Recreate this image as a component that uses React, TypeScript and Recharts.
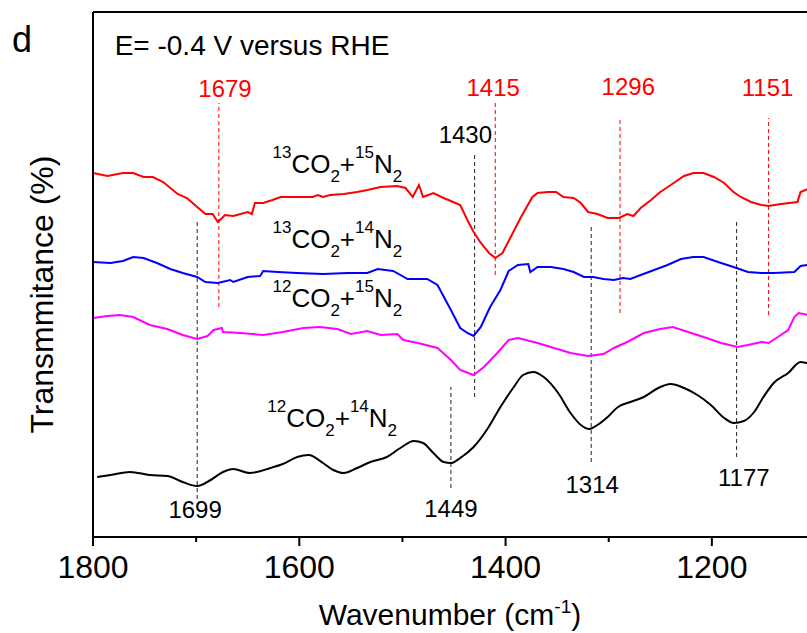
import React from 'react';
import { LineChart, Line, XAxis, YAxis, ReferenceLine, ReferenceDot } from 'recharts';

// FTIR spectra, E = -0.4 V vs RHE. x: wavenumber (cm-1), y: offset transmittance (a.u.)
const FONT = '"Liberation Sans", Arial, Helvetica, sans-serif';

const xTicks = [1800, 1700, 1600, 1500, 1400, 1300, 1200, 1100];

const red13C15N: [number, number][] = [
  [1800, 364], [1786, 361], [1771, 364], [1761, 364], [1751, 360], [1742, 360], [1732, 355], [1718, 343],
  [1709, 339], [1699, 330], [1691, 323], [1684, 323], [1679, 315], [1672, 322], [1664, 321], [1657, 323],
  [1650, 325], [1646, 323], [1643, 334], [1635, 334], [1626, 337], [1618, 340], [1602, 340], [1587, 340],
  [1582, 342], [1577, 340], [1570, 342], [1557, 343], [1544, 345], [1534, 347], [1521, 350], [1505, 351],
  [1497, 349], [1490, 340], [1484, 352], [1480, 340], [1470, 344], [1460, 339], [1453, 336], [1444, 332],
  [1437, 317], [1431, 305], [1424, 294], [1416, 284], [1410, 279], [1403, 284], [1395, 300], [1385, 320],
  [1374, 340], [1369, 344], [1359, 345], [1351, 345], [1344, 340], [1334, 339], [1327, 334], [1320, 325],
  [1311, 323], [1301, 319], [1290, 319], [1282, 323], [1276, 321], [1269, 329], [1259, 337], [1250, 345],
  [1237, 354], [1227, 361], [1218, 364], [1208, 364], [1198, 360], [1188, 354], [1179, 345], [1172, 340],
  [1162, 335], [1152, 332], [1145, 331], [1133, 333], [1117, 335], [1114, 345], [1107, 348], [1100, 349],
];

const blue13C14N: [number, number][] = [
  [1800, 275], [1783, 274], [1771, 276], [1761, 280], [1751, 279], [1738, 274], [1725, 268], [1713, 264],
  [1699, 260], [1691, 255], [1679, 254], [1667, 257], [1664, 255], [1650, 260], [1638, 261], [1635, 266],
  [1621, 265], [1602, 264], [1577, 263], [1553, 264], [1534, 264], [1524, 268], [1509, 266], [1495, 258],
  [1476, 258], [1466, 252], [1453, 227], [1444, 209], [1437, 204], [1431, 201], [1424, 210], [1415, 230],
  [1405, 247], [1397, 266], [1388, 272], [1378, 273], [1376, 265], [1369, 270], [1356, 270], [1344, 268],
  [1334, 265], [1324, 260], [1315, 260], [1305, 258], [1295, 257], [1286, 259], [1279, 258], [1269, 262],
  [1256, 267], [1243, 272], [1230, 278], [1218, 280], [1208, 280], [1194, 275], [1179, 270], [1165, 265],
  [1152, 264], [1140, 264], [1120, 265], [1114, 271], [1107, 272], [1100, 272],
];

const magenta12C15N: [number, number][] = [
  [1800, 219], [1786, 221], [1774, 222], [1761, 220], [1745, 212], [1728, 208], [1713, 202], [1699, 198],
  [1689, 201], [1683, 207], [1675, 209], [1674, 205], [1657, 204], [1635, 202], [1616, 205], [1596, 209],
  [1580, 210], [1563, 208], [1550, 203], [1534, 206], [1521, 202], [1505, 203], [1499, 197], [1485, 194],
  [1466, 189], [1453, 177], [1444, 167], [1431, 162], [1421, 170], [1408, 184], [1397, 197], [1388, 199],
  [1369, 194], [1353, 189], [1337, 184], [1320, 181], [1305, 183], [1295, 189], [1282, 195], [1266, 204],
  [1250, 208], [1238, 210], [1223, 205], [1208, 200], [1191, 194], [1175, 190], [1165, 192], [1152, 195],
  [1145, 194], [1136, 200], [1126, 207], [1120, 220], [1116, 224], [1107, 222], [1100, 221],
];

const black12C14N: [number, number][] = [
  [1796, 60], [1783, 62], [1764, 65], [1745, 62], [1728, 61], [1713, 55], [1699, 51], [1686, 57],
  [1674, 65], [1664, 68], [1648, 64], [1628, 69], [1616, 73], [1602, 80], [1591, 82], [1577, 74],
  [1567, 67], [1557, 64], [1544, 69], [1531, 75], [1515, 80], [1502, 89], [1489, 96], [1480, 94],
  [1470, 84], [1460, 75], [1453, 74], [1444, 79], [1431, 90], [1417, 109], [1405, 130], [1392, 150],
  [1383, 162], [1373, 165], [1363, 160], [1349, 144], [1337, 124], [1327, 112], [1319, 108], [1311, 112],
  [1301, 120], [1291, 130], [1279, 135], [1266, 140], [1252, 149], [1240, 153], [1227, 149], [1214, 142],
  [1201, 132], [1188, 119], [1179, 114], [1169, 116], [1159, 125], [1150, 140], [1140, 154], [1126, 164],
  [1114, 175], [1107, 174], [1100, 177],
];

// dashed peak markers: [wavenumber, y from, y to]
const blackMarks: [number, number, number][] = [
  [1699, 38, 316], [1430, 140, 385], [1453, 49, 150], [1317, 75, 310], [1176, 80, 317],
];
const redMarks: [number, number, number][] = [
  [1678, 230, 434], [1410, 262, 435], [1289, 224, 420], [1145, 222, 419],
];

// peak labels: [text, wavenumber, y]
const blackPeakLabels: [string, number, number][] = [
  ['1430', 1439, 394], ['1699', 1701, 19], ['1449', 1453, 20], ['1314', 1316, 44], ['1177', 1169, 51],
];
const redPeakLabels: [string, number, number][] = [
  ['1679', 1672, 440], ['1415', 1412, 441], ['1296', 1281, 442], ['1151', 1146, 441],
];

// series labels: [C isotope, N isotope, wavenumber, y]
const seriesLabels: [string, string, number, number][] = [
  ['13', '15', 1626, 364],
  ['13', '14', 1626, 289],
  ['12', '15', 1626, 230],
  ['12', '14', 1631, 110],
];

const toPoints = (rows: [number, number][]) => rows.map(([w, t]) => ({ w, t }));

const XTick = (props: any) => {
  const { x, y, payload } = props;
  const major = payload.value % 200 === 0;
  return (
    <g>
      <line x1={x} x2={x} y1={y} y2={y + (major ? 9 : 5)} stroke="#000" strokeWidth={2} />
      {major && (
        <text x={x} y={y + 41} textAnchor="middle" fontSize={32} fontFamily={FONT} fill="#000">
          {payload.value}
        </text>
      )}
    </g>
  );
};

const XTitle = (props: any) => {
  const vb = props.viewBox || { x: 93, y: 537, width: 722, height: 60 };
  const cx = vb.x + vb.width / 2 - 4;
  return (
    <text x={cx} y={vb.y + 88} textAnchor="middle" fontSize={30} fontFamily={FONT} fill="#000">
      Wavenumber (cm
      <tspan fontSize={19} dy={-12}>-1</tspan>
      <tspan dy={12}>)</tspan>
    </text>
  );
};

const YTitle = (props: any) => {
  const vb = props.viewBox || { x: 0, y: 12, width: 93, height: 525 };
  const x = 53;
  const y = vb.y + vb.height / 2 + 20;
  return (
    <text x={x} y={y} transform={`rotate(-90, ${x}, ${y})`} textAnchor="middle" fontSize={32} fontFamily={FONT} fill="#000">
      Transmmitance (%)
    </text>
  );
};

const textShape = (text: string, color: string, size: number, anchor: string = 'middle') => (p: any) => (
  <text x={p.cx} y={p.cy} textAnchor={anchor} fontSize={size} fontFamily={FONT} fill={color}>
    {text}
  </text>
);

const isotopeShape = (c: string, n: string) => (p: any) => (
  <text x={p.cx} y={p.cy} fontSize={26} fontFamily={FONT} fill="#000">
    <tspan fontSize={17} dy={-15}>{c}</tspan>
    <tspan dy={15}>CO</tspan>
    <tspan fontSize={17} dy={9}>2</tspan>
    <tspan dy={-9}>+</tspan>
    <tspan fontSize={17} dy={-15}>{n}</tspan>
    <tspan dy={15}>N</tspan>
    <tspan fontSize={17} dy={9}>2</tspan>
  </text>
);

export default function App() {
  return (
    <div style={{ position: 'absolute', left: 0, top: 0, width: 807, height: 633, overflow: 'hidden', background: '#fff', fontFamily: FONT }}>
      <svg style={{ position: 'absolute', left: 0, top: 0 }} width={60} height={60}>
        <text x={12} y={52} fontSize={36} fontFamily={FONT} fill="#000">d</text>
      </svg>
      <LineChart width={840} height={633} margin={{ top: 12, right: 25, bottom: 36, left: 0 }}>
        <XAxis
          type="number"
          dataKey="w"
          domain={[1100, 1800]}
          reversed
          ticks={xTicks}
          interval={0}
          tickSize={0}
          tickMargin={0}
          tickLine={false}
          tick={<XTick />}
          height={60}
          axisLine={{ stroke: '#000', strokeWidth: 2 }}
          label={{ content: XTitle }}
        />
        <YAxis
          type="number"
          domain={[0, 525]}
          tick={false}
          tickLine={false}
          width={93}
          axisLine={{ stroke: '#000', strokeWidth: 2 }}
          label={{ content: YTitle }}
        />
        <ReferenceLine y={525} stroke="#000" strokeWidth={2} />

        {blackMarks.map(([w, y1, y2]) => (
          <ReferenceLine key={'b' + w} segment={[{ x: w, y: y1 }, { x: w, y: y2 }]} stroke="#222" strokeWidth={1} strokeDasharray="4 3" />
        ))}
        {redMarks.map(([w, y1, y2]) => (
          <ReferenceLine key={'r' + w} segment={[{ x: w, y: y1 }, { x: w, y: y2 }]} stroke="#ff0000" strokeWidth={1} strokeDasharray="4 3" />
        ))}

        <Line data={toPoints(red13C15N)} dataKey="t" type="linear" stroke="#ff0000" strokeWidth={2} dot={false} isAnimationActive={false} />
        <Line data={toPoints(blue13C14N)} dataKey="t" type="linear" stroke="#0000ff" strokeWidth={2} dot={false} isAnimationActive={false} />
        <Line data={toPoints(magenta12C15N)} dataKey="t" type="linear" stroke="#ff00ff" strokeWidth={2} dot={false} isAnimationActive={false} />
        <Line data={toPoints(black12C14N)} dataKey="t" type="monotone" stroke="#000" strokeWidth={2} dot={false} isAnimationActive={false} />

        <ReferenceDot x={1779} y={482} r={0} shape={textShape('E= -0.4 V versus RHE', '#000', 28, 'start')} />
        {blackPeakLabels.map(([t, w, y]) => (
          <ReferenceDot key={'bl' + t} x={w} y={y} r={0} shape={textShape(t, '#000', 24)} />
        ))}
        {redPeakLabels.map(([t, w, y]) => (
          <ReferenceDot key={'rl' + t} x={w} y={y} r={0} shape={textShape(t, '#ff0000', 24)} />
        ))}
        {seriesLabels.map(([c, n, w, y]) => (
          <ReferenceDot key={'s' + c + n} x={w} y={y} r={0} shape={isotopeShape(c, n)} />
        ))}
      </LineChart>
    </div>
  );
}
